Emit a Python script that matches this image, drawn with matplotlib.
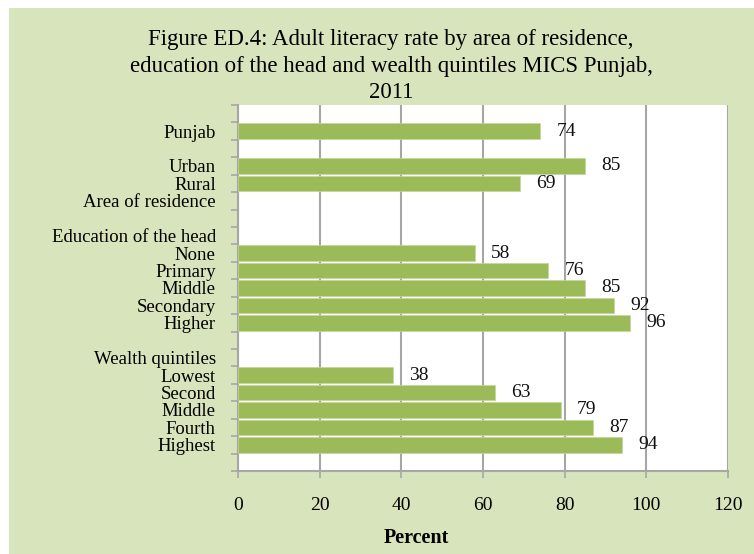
import numpy as np
import matplotlib
matplotlib.use("Agg")
import matplotlib.pyplot as plt
from matplotlib.patches import Rectangle
from matplotlib.ticker import FixedLocator

# rows from top to bottom, blank rows are spacer categories
labels = ["", "Punjab", "", "Urban", "Rural", "Area of residence", "",
          "Education of the head", "None", "Primary", "Middle", "Secondary", "Higher", "",
          "Wealth quintiles", "Lowest", "Second", "Middle", "Fourth", "Highest", ""]
values = [np.nan, 74, np.nan, 85, 69, np.nan, np.nan,
          np.nan, 58, 76, 85, 92, 96, np.nan,
          np.nan, 38, 63, 79, 87, 94, np.nan]
xticks = [0, 20, 40, 60, 80, 100, 120]

title_lines = ["Figure ED.4: Adult literacy rate by area of residence,",
               "education of the head and wealth quintiles MICS Punjab,",
               "2011"]

bg = "#d8e4bc"
bar_colour = "#9bbb59"
grid_colour = "#a6a6a6"
font = "Liberation Serif"

W, H = 754, 554
fig = plt.figure(figsize=(W / 100, H / 100), dpi=100)
fig.patch.set_facecolor("white")
# green panel, leaves a thin white strip on the top and left
fig.patches.append(Rectangle((9 / W, 0), 1 - 9 / W, 1 - 8 / H, transform=fig.transFigure,
                             facecolor=bg, edgecolor="none", zorder=-10))

ax = fig.add_axes([238 / W, 1 - 471 / H, 490 / W, 366 / H])
ax.set_facecolor("white")

y = np.arange(len(labels))
vals = np.array(values, dtype=float)
ax.barh(y, vals, height=0.88, color=bar_colour, edgecolor="#c4d79b", linewidth=0.5, zorder=3)

for yi, v in zip(y, vals):
    if not np.isnan(v):
        ax.text(v + 4, yi, f"{v:.0f}", va="center", ha="left", fontsize=14,
                family=font, color="#111111", zorder=4)

ax.set_xlim(0, 120)
ax.set_ylim(len(labels) - 0.5, -0.5)
ax.set_xticks(xticks)
ax.set_xticklabels([str(t) for t in xticks], family=font, fontsize=14)

# labels at row centres, tick marks at row boundaries
ax.set_yticks(y)
ax.set_yticklabels(labels, family=font, fontsize=13.5)
ax.yaxis.set_minor_locator(FixedLocator(np.arange(len(labels) + 1) - 0.5))
ax.tick_params(axis="y", which="major", length=0, pad=16)
ax.tick_params(axis="y", which="minor", length=5, width=1.2, color=grid_colour, direction="out")
ax.tick_params(axis="x", which="major", length=5, width=1.2, color=grid_colour, pad=14)

ax.grid(axis="x", color=grid_colour, linewidth=1.5, zorder=1)
ax.set_axisbelow(True)
for side in ["top", "right"]:
    ax.spines[side].set_visible(False)
for side in ["left", "bottom"]:
    ax.spines[side].set_color(grid_colour)
    ax.spines[side].set_linewidth(1.5)

for txt, yy in zip(title_lines, [40, 67, 92]):
    fig.text(391 / W, 1 - yy / H, txt, ha="center", va="center", fontsize=16.5, family=font)

fig.text(416 / W, 1 - 538 / H, "Percent", ha="center", va="center", fontsize=14.5,
         fontweight="bold", family=font)

fig.savefig("out.png", dpi=100, facecolor=fig.get_facecolor())
